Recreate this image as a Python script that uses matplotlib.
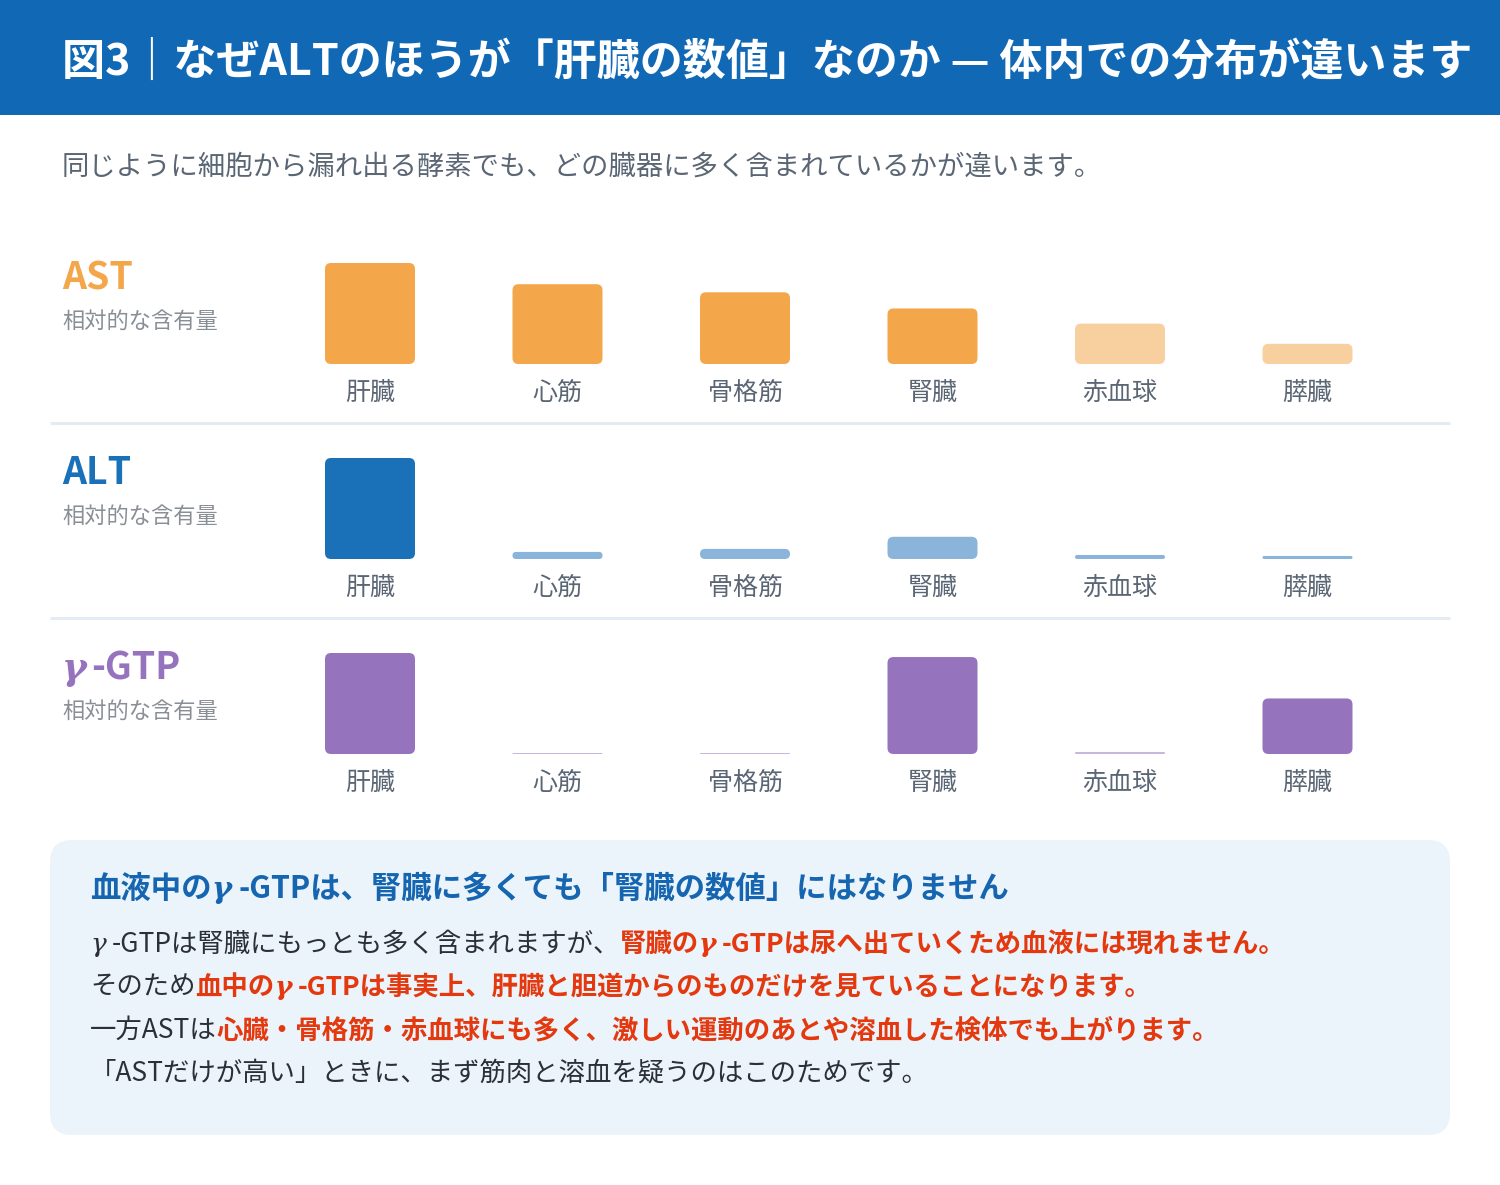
import numpy as np
import matplotlib
matplotlib.use("Agg")
import matplotlib.pyplot as plt
from matplotlib.patches import FancyBboxPatch, Rectangle

W, H = 1500, 1185
JP = ["Noto Sans CJK JP", "DejaVu Sans"]
GREEK = ["DejaVu Serif"]
plt.rcParams["font.family"] = JP

# --- data (relative content, liver = 100) -----------------------------------
organs = ["肝臓", "心筋", "骨格筋", "腎臓", "赤血球", "膵臓"]
ast_vals = [100, 79, 71, 55, 40, 20]
alt_vals = [100, 7, 10, 22, 4, 3]
gtp_vals = [100, 1, 1, 96, 2, 55]

enzymes = ["AST", "ALT", "γ-GTP"]
enzyme_values = [ast_vals, alt_vals, gtp_vals]
dark_colors = ["#f4a64a", "#1b71b8", "#9674bd"]
light_colors = ["#f8d09f", "#8ab4da", "#c9b6df"]
LIGHT_BELOW = 50

title = "図3｜なぜALTのほうが「肝臓の数値」なのか — 体内での分布が違います"
subtitle = "同じように細胞から漏れ出る酵素でも、どの臓器に多く含まれているかが違います。"
row_caption = "相対的な含有量"

BLACK, RED = "#2b2f36", "#e4380f"
note_title = [("血液中の", "b"), ("γ", "g"), ("-GTPは、腎臓に多くても「腎臓の数値」にはなりません", "b")]
note_lines = [
    [("γ", "gn", BLACK), ("-GTPは腎臓にもっとも多く含まれますが、", "n", BLACK),
     ("腎臓の", "b", RED), ("γ", "g", RED), ("-GTPは尿へ出ていくため血液には現れません。", "b", RED)],
    [("そのため", "n", BLACK), ("血中の", "b", RED), ("γ", "g", RED),
     ("-GTPは事実上、肝臓と胆道からのものだけを見ていることになります。", "b", RED)],
    [("一方ASTは", "n", BLACK), ("心臓・骨格筋・赤血球にも多く、激しい運動のあとや溶血した検体でも上がります。", "b", RED)],
    [("「ASTだけが高い」ときに、まず筋肉と溶血を疑うのはこのためです。", "n", BLACK)],
]

fig = plt.figure(figsize=(W / 100, H / 100), dpi=100, facecolor="white")
bg = fig.add_axes([0, 0, 1, 1])
bg.set_xlim(0, W)
bg.set_ylim(H, 0)
bg.axis("off")
renderer = fig.canvas.get_renderer()


def px(x):
    return x / W


def py(y):
    return 1 - y / H


def draw_runs(x, y, runs, size, gap=0.3):
    """Draw consecutive text pieces on one baseline; runs = (text, color, weight, family, style)."""
    for text, color, weight, family, style in runs:
        t = fig.text(px(x), py(y), text, fontsize=size, color=color, weight=weight,
                     family=family, style=style, ha="left", va="baseline")
        x += t.get_window_extent(renderer=renderer).width
        if family is GREEK:
            x += size * gap          # the reference sets gamma in a wider box
    return x


def run_spec(text, kind, color):
    if kind == "g":
        return (text, color, "bold", GREEK, "italic")
    if kind == "gn":
        return (text, color, "normal", GREEK, "italic")
    return (text, color, "bold" if kind == "b" else "normal", JP, "normal")


# header band
bg.add_patch(Rectangle((0, 0), W, 115, color="#1169b6", lw=0))
fig.text(px(62), py(75), title, fontsize=31, color="white", weight="bold",
         ha="left", va="baseline")
fig.text(px(62), py(175), subtitle, fontsize=19.7, color="#5b6675",
         ha="left", va="baseline")

# bar rows
baselines = [364, 559, 754]
slot = 187.5
bar_w = 0.48
for k, (name, vals) in enumerate(zip(enzymes, enzyme_values)):
    base = baselines[k]
    ax = fig.add_axes([px(370 - slot / 2), py(base), 6 * slot / W, 101 / H])
    ax.set_xlim(-0.5, 5.5)
    ax.set_ylim(0, 100)
    ax.patch.set_alpha(0)
    for s in ax.spines.values():
        s.set_visible(False)
    ax.set_yticks([])
    ax.set_xticks(range(len(organs)), organs, fontsize=18, color="#5b6675")
    ax.tick_params(axis="x", length=0, pad=11.5)
    ypx = 101 / 100
    for i, v in enumerate(vals):
        col = dark_colors[k] if v >= LIGHT_BELOW else light_colors[k]
        r = min(6.0, v * ypx / 2)
        ax.add_patch(FancyBboxPatch(
            (i - bar_w / 2, 0), bar_w, v,
            boxstyle=f"round,pad=0,rounding_size={r / slot}",
            mutation_aspect=slot / ypx, fc=col, ec="none", clip_on=False))

    hy = 289 + 195 * k
    if name.startswith("γ"):
        draw_runs(62, hy, [("γ", dark_colors[k], "bold", GREEK, "italic"),
                           ("-GTP", dark_colors[k], "bold", JP, "normal")], 27, gap=0.15)
    else:
        fig.text(px(62), py(hy), name, fontsize=27, color=dark_colors[k],
                 weight="bold", ha="left", va="baseline")
    fig.text(px(62), py(hy + 39), row_caption, fontsize=16, color="#8a8f96",
             ha="left", va="baseline")

for y in (423, 618):
    bg.plot([50, 1450], [y, y], color="#e4ebf2", lw=2.2, solid_capstyle="butt")

# note box
bg.add_patch(FancyBboxPatch((50, 840), 1400, 295, boxstyle="round,pad=0,rounding_size=22",
                            fc="#ebf4fa", ec="none"))
draw_runs(90, 898, [run_spec(t, kind, "#1565b0") for t, kind in note_title], 21.9)
for j, line in enumerate(note_lines):
    draw_runs(90, 952 + 43 * j, [run_spec(t, kind, c) for t, kind, c in line], 19)

fig.savefig("out.png", dpi=100, facecolor="white")
